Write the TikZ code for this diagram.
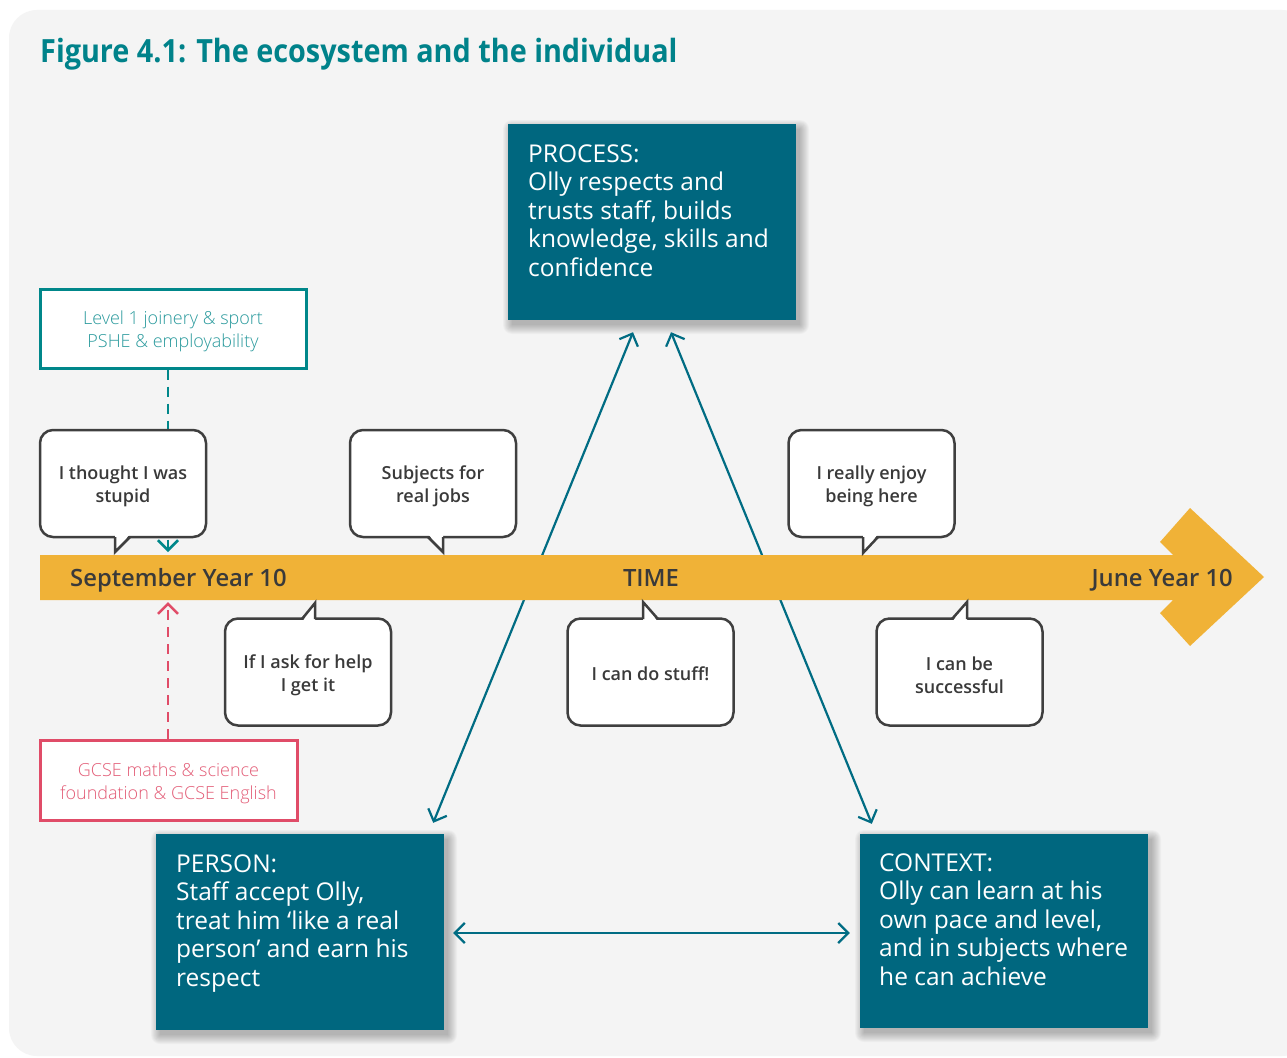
\documentclass[tikz,border=0pt]{standalone}
\usepackage{fontspec}
\setmainfont{Open Sans}
\newfontfamily\titlef[FakeStretch=0.90]{Open Sans}
\newfontfamily\semib{Open Sans Semibold}
\newfontfamily\lightf{Open Sans Light}
\usetikzlibrary{arrows.meta,calc}

\definecolor{bgcol}{HTML}{F4F4F4}
\definecolor{tealbox}{HTML}{00677F}
\definecolor{tealline}{HTML}{006C83}
\definecolor{titlecol}{HTML}{00828A}
\definecolor{levelcol}{HTML}{00878A}
\definecolor{leveltext}{HTML}{2A9A9D}
\definecolor{gcsecol}{HTML}{E04C68}
\definecolor{gcsetext}{HTML}{E35D77}
\definecolor{bandcol}{HTML}{F0B237}
\definecolor{callgrey}{HTML}{3F3F3F}
\definecolor{calltext}{HTML}{3A3A3A}

\tikzset{
  barb/.tip={Straight Barb[length=10pt,width=20pt]},
  tealboxstyle/.style={fill=tealbox, inner sep=0, minimum width=288, minimum height=196},
  tealtext/.style={text=white, inner sep=0, font=\fontsize{24.5}{28.5}\selectfont},
  callbox/.style={draw=callgrey, line width=2.5, fill=white, rounded corners=13,
    minimum width=166, minimum height=107, inner sep=0},
  calltxt/.style={inner sep=0, align=center, text=calltext,
    font=\semib\fontsize{18}{23}\selectfont},
  calledge/.style={draw=callgrey, line width=2.5, line join=miter},
  labelbox/.style={fill=white, line width=3, inner sep=0},
  labeltxt/.style={inner sep=0, align=center, font=\lightf\fontsize{18}{23}\selectfont},
  bandtext/.style={inner sep=0, text=calltext, font=\semib\fontsize{23.8}{28}\selectfont},
  link/.style={draw=tealline, line width=2.2, barb-barb},
  dashlink/.style={line width=2.5, dash pattern=on 10pt off 7pt, -barb},
}

% speech-bubble tail: base point, tip, base point, inward shift
\newcommand\calltail[4]{%
  \fill[white] ($#1+(0,#4)$) -- #2 -- ($#3+(0,#4)$) -- cycle;
  \draw[calledge] #1 -- #2 -- #3;}

% soft drop shadow under a box given by its corners
\newcommand\softshadow[4]{%
  \foreach \e in {0,...,9}{%
    \fill[black, opacity=0.028, rounded corners=\e pt]
      (#1+4-\e, #2+5-\e) rectangle (#3+4+\e, #4+5+\e);}}

\begin{document}
\begin{tikzpicture}[x=1pt,y=-1pt]
\useasboundingbox (0,0) rectangle (1287,1057);
\fill[white] (0,0) rectangle (1287,1057);
\fill[bgcol, rounded corners=28pt] (9,10) rectangle (1310,1056);

% title
\node[anchor=base west, inner sep=0, text=titlecol,
  font=\titlef\bfseries\fontsize{32}{38}\selectfont] (title) at (40,63)
  {Figure 4.1: The ecosystem and the individual};

% the three ecosystem boxes
\softshadow{508}{124}{796}{320}
\softshadow{156}{834}{444}{1030}
\softshadow{860}{834}{1148}{1028}
\node[tealboxstyle] (process) at (652,222) {};
\node[tealboxstyle, minimum height=196] (person) at (300,932) {};
\node[tealboxstyle, minimum height=194] (context) at (1004,931) {};

\node[tealtext, anchor=base west] (processtxt) at (528,162)
  {\parbox[t]{262pt}{PROCESS:\\Olly respects and\\trusts staff, builds\\knowledge, skills and\\confidence}};
\node[tealtext, anchor=base west] (persontxt) at (176,872)
  {\parbox[t]{262pt}{PERSON:\\Staff accept Olly,\\treat him ‘like a real\\person’ and earn his\\respect}};
\node[tealtext, anchor=base west] (contexttxt) at (879,871)
  {\parbox[t]{262pt}{CONTEXT:\\Olly can learn at his\\own pace and level,\\and in subjects where\\he can achieve}};

% arrow tips around the boxes
\coordinate (pl) at ($(process.south)+(-19,12)$);
\coordinate (pr) at ($(process.south)+(19,12)$);
\coordinate (ps) at ($(person.north east)+(-11,-11)$);
\coordinate (pe) at ($(person.east)+(9,1)$);
\coordinate (cn) at ($(context.north west)+(12,-10)$);
\coordinate (cw) at ($(context.west)+(-10,2)$);

\draw[link] (ps) -- (pl);
\draw[link] (cn) -- (pr);
\draw[link] (pe) -- (cw);

% time arrow
\fill[bandcol] (40,555) -- (1173,555) -- (1160,542) -- (1190,508) -- (1264,577)
  -- (1190,646) -- (1160,613) -- (1173,600) -- (40,600) -- cycle;
\node[bandtext, anchor=base west] (sept) at (70,586) {September Year 10};
\node[bandtext, anchor=base] (time) at (651,586) {TIME};
\node[bandtext, anchor=base east] (june) at (1233,586) {June Year 10};

% curriculum boxes and their dashed links
\node[labelbox, draw=levelcol, minimum width=266, minimum height=79]
  (level) at (173,328.5) {};
\node[labeltxt, text=leveltext] (leveltxt) at (173,331.5)
  {Level 1 joinery \& sport\\PSHE \& employability};
\node[labelbox, draw=gcsecol, minimum width=257, minimum height=80]
  (gcse) at (168.5,780) {};
\node[labeltxt, text=gcsetext] (gcsetxt) at (168.5,783)
  {GCSE maths \& science\\foundation \& GCSE English};
\coordinate (tealend) at (168,552);
\coordinate (redend) at (168,602);
\draw[dashlink, draw=levelcol] (level.south -| tealend) -- (tealend);
\draw[dashlink, draw=gcsecol] (gcse.north -| redend) -- (redend);

% speech bubbles above the arrow
\node[callbox] (c1) at (123,483.5) {};
\calltail{(115,537)}{(115,552)}{(130,537)}{-3}
\node[calltxt] (c1t) at ($(c1)+(0,3)$) {I thought I was\\stupid};
\node[callbox] (c2) at (433,483.5) {};
\calltail{(428,537)}{(443,552)}{(443,537)}{-3}
\node[calltxt] (c2t) at ($(c2)+(0,3)$) {Subjects for\\real jobs};
\node[callbox] (c3) at (871.5,483.5) {};
\calltail{(863,537)}{(863,553)}{(878,537)}{-3}
\node[calltxt] (c3t) at ($(c3)+(0,3)$) {I really enjoy\\being here};

% speech bubbles below the arrow
\node[callbox] (c4) at (308,672) {};
\calltail{(302,619)}{(315,603)}{(315,619)}{3}
\node[calltxt] (c4t) at ($(c4)+(0,3)$) {If I ask for help\\I get it};
\node[callbox] (c5) at (650.5,672) {};
\calltail{(643,619)}{(643,602)}{(658,619)}{3}
\node[calltxt] (c5t) at ($(c5)+(0,1.5)$) {I can do stuff!};
\node[callbox] (c6) at (959.5,672) {};
\calltail{(952,619)}{(967,602)}{(967,619)}{3}
\node[calltxt] (c6t) at ($(c6)+(0,3)$) {I can be\\successful};
\end{tikzpicture}
\end{document}
